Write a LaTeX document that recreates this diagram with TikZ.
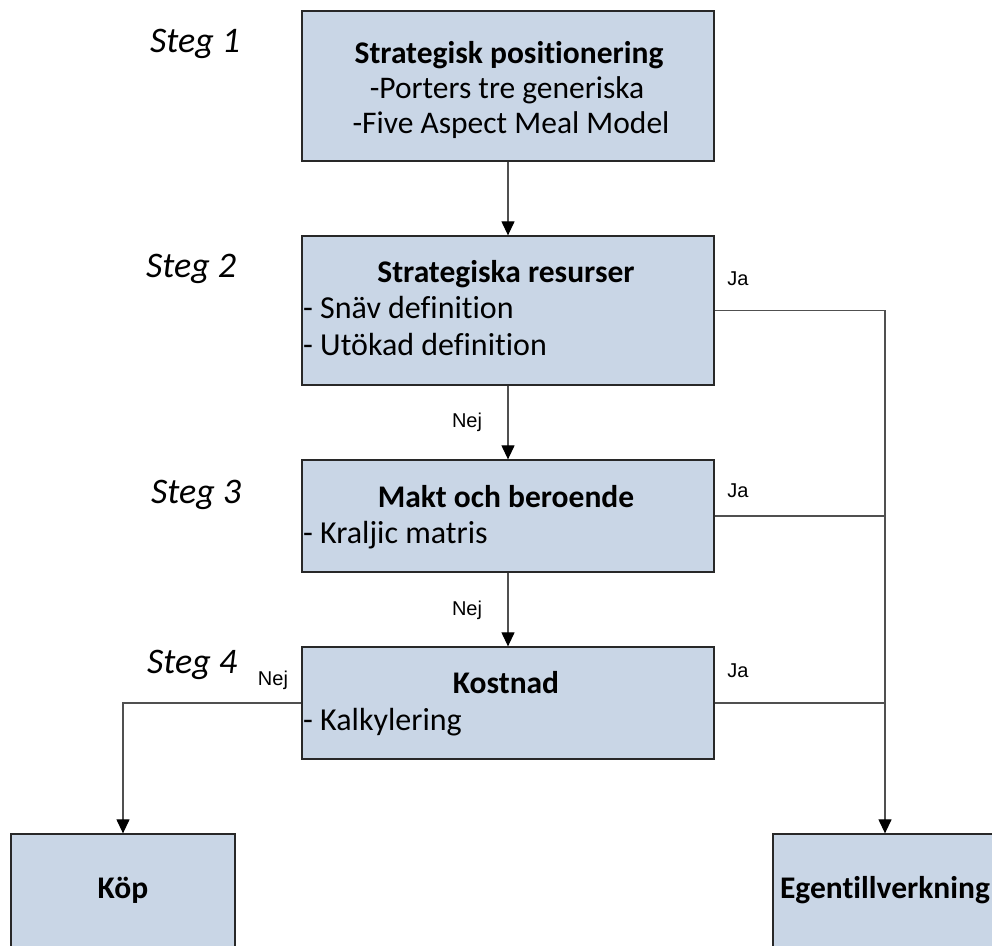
\documentclass[tikz,border=0pt]{standalone}
\usepackage{fontspec}
\setmainfont{Carlito}[Ligatures=NoCommon]
\newfontfamily\labelfont{Liberation Sans}
\usetikzlibrary{arrows.meta}
\definecolor{boxfill}{RGB}{201,214,230}
\definecolor{boxline}{RGB}{40,40,40}
\definecolor{wirecol}{RGB}{80,80,80}
\tikzset{
  stepbox/.style={draw=boxline, fill=boxfill, line width=1.3pt, rectangle,
    inner sep=0pt, minimum width=412pt},
  outbox/.style={draw=boxline, fill=boxfill, line width=1.3pt, rectangle,
    inner sep=0pt, minimum width=224pt, minimum height=130pt},
  boxtxt/.style={inner sep=0pt, anchor=base, font=\fontsize{31.5}{36}\selectfont},
  boxhead/.style={inner sep=0pt, anchor=base, font=\fontsize{31.5}{36}\selectfont\bfseries},
  bullet/.style={inner sep=0pt, anchor=base west, font=\fontsize{32}{36}\selectfont},
  steglbl/.style={inner sep=0pt, anchor=base west, font=\fontsize{36}{40}\selectfont\itshape},
  answer/.style={inner sep=0pt, anchor=base, font=\labelfont\fontsize{20}{24}\selectfont},
  wire/.style={draw=wirecol, line width=1.2pt},
  flow/.style={wire, -{Triangle[length=14pt,width=13pt,color=black]}},
}
\begin{document}
\begin{tikzpicture}[x=1pt,y=-1pt]
\useasboundingbox (0,0) rectangle (992,945);
\clip (0,0) rectangle (992,945);

% step boxes
\node[stepbox, minimum height=150pt] (b1) at (508,86) {};
\node[stepbox, minimum height=149pt] (b2) at (508,310.5) {};
\node[stepbox, minimum height=112pt] (b3) at (508,516) {};
\node[stepbox, minimum height=112pt] (b4) at (508,703) {};

% outcome boxes
\node[outbox] (kop) at (123,899) {};
\node[outbox] (egen) at (885,899) {};

% box texts
\node[boxhead] (t1a) at (509,63) {Strategisk positionering};
\node[boxtxt]  (t1b) at (507,98) {-Porters tre generiska};
\node[boxtxt]  (t1c) at (511,133) {-Five Aspect Meal Model};

\node[boxhead] (t2a) at (506,282) {Strategiska resurser};
\node[bullet]  (t2b) at (303,318) {- Snäv definition};
\node[bullet]  (t2c) at (303,355) {- Utökad definition};

\node[boxhead] (t3a) at (506,507) {Makt och beroende};
\node[bullet]  (t3b) at (303,543) {- Kraljic matris};

\node[boxhead] (t4a) at (506,693) {Kostnad};
\node[bullet]  (t4b) at (303,730) {- Kalkylering};

\node[boxhead] (tk) at (123,898) {Köp};
\node[boxhead] (te) at (885,898) {Egentillverkning};

% step labels
\node[steglbl] (s1) at (150,52) {Steg 1};
\node[steglbl] (s2) at (146,277) {Steg 2};
\node[steglbl] (s3) at (151,503) {Steg 3};
\node[steglbl] (s4) at (147,673) {Steg 4};

% connectors
\draw[flow] (b1.south) -- (b2.north);
\draw[flow] (b2.south) -- (b3.north);
\draw[flow] (b3.south) -- (b4.north);
\draw[flow] (b2.east) -| (egen.north);
\draw[wire] (b3.east) -- (b3.east -| egen.north);
\draw[wire] (b4.east) -- (b4.east -| egen.north);
\draw[flow] (b4.west) -| (kop.north);

% answer labels
\node[answer] (n1) at (467,427) {Nej};
\node[answer] (n2) at (467,615) {Nej};
\node[answer] (n3) at (273,685) {Nej};
\node[answer] (j1) at (738,285) {Ja};
\node[answer] (j2) at (738,497) {Ja};
\node[answer] (j3) at (738,677) {Ja};
\end{tikzpicture}
\end{document}
